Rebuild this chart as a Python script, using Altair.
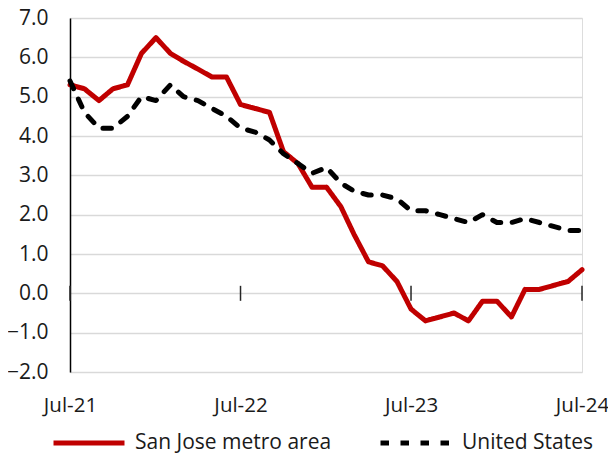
import altair as alt
import pandas as pd

months = pd.date_range("2021-07-01", "2024-07-01", freq="MS").strftime("%Y-%m-%d").tolist()
san_jose = [5.3, 5.2, 4.9, 5.2, 5.3, 6.1, 6.5, 6.1, 5.9, 5.7, 5.5, 5.5,
            4.8, 4.7, 4.6, 3.6, 3.3, 2.7, 2.7, 2.2, 1.5, 0.8, 0.7, 0.3,
            -0.4, -0.7, -0.6, -0.5, -0.7, -0.2, -0.2, -0.6, 0.1, 0.1, 0.2, 0.3,
            0.6]
united_states = [5.4, 4.6, 4.2, 4.2, 4.5, 5.0, 4.9, 5.3, 5.0, 4.9, 4.7, 4.5,
                 4.2, 4.1, 3.9, 3.55, 3.3, 3.05, 3.2, 2.8, 2.6, 2.5, 2.5, 2.4,
                 2.1, 2.1, 2.0, 1.9, 1.8, 2.0, 1.8, 1.8, 1.9, 1.8, 1.7, 1.6,
                 1.6]
series_names = ["San Jose metro area", "United States"]
series_colors = ["#c00000", "#000000"]
year_ticks = ["2021-07-01", "2022-07-01", "2023-07-01", "2024-07-01"]
y_ticks = [-2, -1, 0, 1, 2, 3, 4, 5, 6, 7]

rows = []
for name, vals in zip(series_names, [san_jose, united_states]):
    for m, v in zip(months, vals):
        rows.append({"month": m, "value": v, "series": name})
df = pd.DataFrame(rows)
ticks_df = pd.DataFrame({"month": year_ticks, "value": [0] * len(year_ticks)})

tick_ms = [int(pd.Timestamp(t, tz="UTC").timestamp() * 1000) for t in year_ticks]

FONT = "Open Sans"
TXT = "#1a1a1a"

x_enc = alt.X(
    "month:T",
    scale=alt.Scale(type="utc", nice=False),
    axis=alt.Axis(
        values=tick_ms, format="%b-%y", title=None, domain=False, ticks=False,
        grid=False, labelFontSize=20.5, labelFont=FONT, labelColor=TXT,
        labelPadding=23, labelFlush=False, labelOverlap=False,
    ),
)
y_enc = alt.Y(
    "value:Q",
    scale=alt.Scale(domain=[-2, 7], nice=False, zero=False),
    axis=alt.Axis(
        values=y_ticks, format=".1f", title=None, ticks=False, domain=True,
        domainColor="#000000", domainWidth=1.5, grid=True, gridColor="#d9d9d9",
        gridWidth=1.5, labelFontSize=21, labelFont=FONT, labelColor=TXT,
        labelPadding=22, labelOverlap=False,
    ),
)

legend_spec = alt.Legend(
    title=None, orient="none", legendX=-19, legendY=387, direction="horizontal",
    symbolType="stroke", symbolSize=5041, symbolStrokeWidth=5,
    labelFontSize=21, labelFont=FONT, labelColor=TXT, labelOffset=8,
    columnPadding=38, labelLimit=400,
)

zero_rule = alt.Chart(ticks_df).transform_filter(
    "datum.month == '2021-07-01'"
).mark_rule(color="#595959", strokeWidth=2).encode(
    y=y_enc,
)

tick_marks = alt.Chart(ticks_df).mark_tick(
    orient="vertical", size=15, thickness=1.5, color="#262626", opacity=1
).encode(
    x=x_enc,
    y=y_enc,
)

lines = alt.Chart(df).mark_line(strokeWidth=5, strokeCap="round", strokeJoin="round").encode(
    x=x_enc,
    y=y_enc,
    color=alt.Color(
        "series:N",
        scale=alt.Scale(domain=series_names, range=series_colors),
        legend=legend_spec,
    ),
    strokeDash=alt.StrokeDash(
        "series:N",
        scale=alt.Scale(domain=series_names, range=[[1, 0], [8.5, 11.5]]),
        legend=legend_spec,
    ),
)

chart = alt.layer(zero_rule, tick_marks, lines).properties(
    width=512,
    height=354,
    autosize=alt.AutoSizeParams(type="none"),
    padding={"left": 62, "top": 10, "right": 26, "bottom": 90},
).configure_view(
    stroke="#d0d0d0", strokeWidth=1.5
).configure(background="white")

chart.save("out.html", embed_options={"renderer": "svg", "actions": False})
